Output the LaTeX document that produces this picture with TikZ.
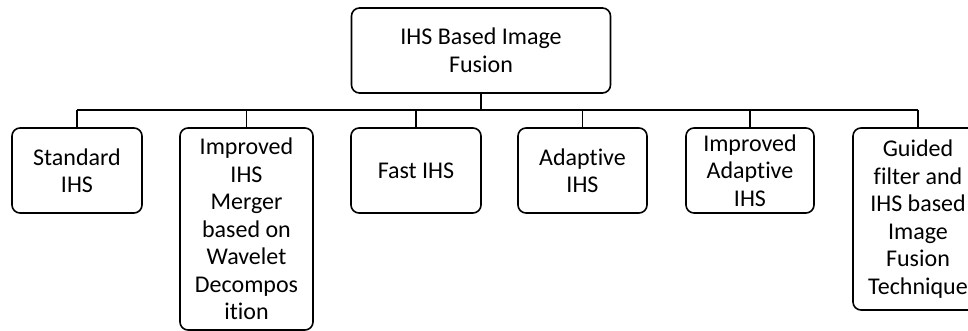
\documentclass[tikz,border=0pt]{standalone}
\usepackage{fontspec}
\setmainfont{Carlito}[Ligatures=NoCommon]
\begin{document}
\begin{tikzpicture}[x=1pt,y=-1pt,
  box/.style={draw, line width=1.6pt, rounded corners=8pt, align=center,
    font=\fontsize{24}{27.5}\selectfont, inner sep=0pt},
  conn/.style={line width=1.6pt}]
\clip (0,0) rectangle (968,331);
\node[box, minimum width=259, minimum height=85] (root) at (481,50.5) {IHS Based Image\\Fusion};
\node[box, minimum width=130, minimum height=85] (c1) at (77,170.5) {Standard\\IHS};
\node[box, minimum width=133, minimum height=202] (c2) at (246.5,229) {Improved\\IHS\\Merger\\based on\\Wavelet\\Decompos\\ition};
\node[box, minimum width=130, minimum height=85] (c3) at (416,170.5) {Fast IHS};
\node[box, minimum width=129, minimum height=85] (c4) at (582.5,170.5) {Adaptive\\IHS};
\node[box, minimum width=128, minimum height=85] (c5) at (750,170.5) {Improved\\Adaptive\\IHS};
\node[box, minimum width=130, minimum height=182] (c6) at (918,219) {Guided\\filter and\\IHS based\\Image\\Fusion\\Technique};
\coordinate (busL) at (77,110);
\coordinate (busR) at (918,110);
\draw[conn] (busL) -- (busR);
\draw[conn] (root.south) -- (root.south |- busL);
\foreach \n in {c1,c2,c3,c4,c5,c6}{
  \draw[conn] (\n.north) -- (\n.north |- busL);
}
\end{tikzpicture}
\end{document}
